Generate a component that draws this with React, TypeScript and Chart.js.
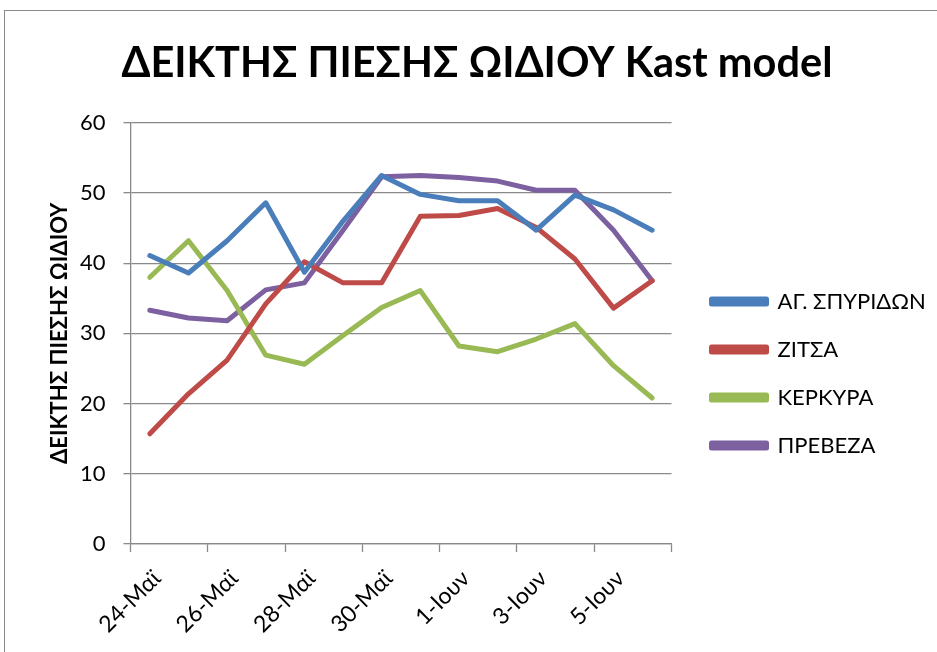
import React, { useEffect, useRef } from 'react';
import { Chart, registerables } from 'chart.js';

Chart.register(...registerables);

const titleText = 'ΔΕΙΚΤΗΣ ΠΙΕΣΗΣ ΩΙΔΙΟΥ Kast model';
const yAxisTitle = 'ΔΕΙΚΤΗΣ ΠΙΕΣΗΣ ΩΙΔΙΟΥ';

const dates = [
  '24-Μαϊ', '25-Μαϊ', '26-Μαϊ', '27-Μαϊ', '28-Μαϊ', '29-Μαϊ', '30-Μαϊ',
  '31-Μαϊ', '1-Ιουν', '2-Ιουν', '3-Ιουν', '4-Ιουν', '5-Ιουν', '6-Ιουν',
];

const seriesNames = ['ΑΓ. ΣΠΥΡΙΔΩΝ', 'ΖΙΤΣΑ', 'ΚΕΡΚΥΡΑ', 'ΠΡΕΒΕΖΑ'];
const seriesColors = ['#4A7EBB', '#BE4B48', '#98B954', '#7D60A0'];

const agSpyridon = [41.1, 38.6, 43.2, 48.6, 38.7, 46.0, 52.5, 49.8, 48.9, 48.9, 44.7, 49.7, 47.6, 44.7];
const zitsa = [15.7, 21.4, 26.2, 34.2, 40.2, 37.2, 37.2, 46.7, 46.8, 47.8, 45.1, 40.6, 33.6, 37.5];
const kerkyra = [38.0, 43.2, 36.1, 26.9, 25.6, 29.7, 33.7, 36.1, 28.2, 27.4, 29.2, 31.4, 25.4, 20.8];
const preveza = [33.3, 32.2, 31.8, 36.2, 37.2, 44.7, 52.3, 52.5, 52.2, 51.7, 50.4, 50.4, 44.7, 37.5];

const yMin = 0;
const yMax = 60;
const yStep = 10;

const allSeries = [agSpyridon, zitsa, kerkyra, preveza];

const FONT = 'Lato, "Open Sans", "Liberation Sans", sans-serif';
const GRID = '#898989';
const LABEL_OFFSET = 0.68;
const LEGEND_DX = 14;
const LEGEND_DY = 42;

const legendShift = {
  id: 'legendShift',
  afterLayout(chart: any) {
    const l = chart.legend;
    if (!l) return;
    l.left += LEGEND_DX;
    l.right += LEGEND_DX;
    l.top += LEGEND_DY;
    l.bottom += LEGEND_DY;
  },
};

export default function App() {
  const ref = useRef<HTMLCanvasElement | null>(null);

  useEffect(() => {
    if (!ref.current) return;
    const chart = new Chart(ref.current, {
      type: 'line',
      data: {
        datasets: allSeries.map((vals, s) => ({
          label: seriesNames[s],
          data: vals.map((v, i) => ({ x: i + 0.5, y: v })),
          borderColor: seriesColors[s],
          backgroundColor: seriesColors[s],
          borderWidth: 5,
          pointRadius: 0,
          pointHoverRadius: 0,
          tension: 0,
          fill: false,
          borderJoinStyle: 'round',
          borderCapStyle: 'round',
        })),
      },
      plugins: [legendShift],
      options: {
        responsive: false,
        animation: false,
        layout: { padding: { left: 37.5, right: 25.5, top: 0, bottom: 0 } },
        plugins: {
          title: {
            display: true,
            text: titleText,
            color: '#000',
            font: { family: FONT, size: 41.5, weight: 'bold', lineHeight: 1.2 },
            padding: { top: 28, bottom: 34 },
          },
          legend: {
            display: true,
            position: 'right',
            align: 'center',
            maxWidth: 240,
            labels: {
              boxWidth: 55,
              boxHeight: 5,
              padding: 26,
              color: '#000',
              font: { family: FONT, size: 22 },
            },
          },
          tooltip: { enabled: false },
        },
        scales: {
          x: {
            type: 'linear',
            min: 0,
            max: dates.length,
            afterFit: (scale: any) => {
              scale.height = 108;
            },
            afterBuildTicks: (scale: any) => {
              const t: any[] = [];
              for (let i = 0; i <= dates.length; i += 2) {
                t.push({ value: i });
                if (i < dates.length) t.push({ value: i + LABEL_OFFSET });
              }
              scale.ticks = t;
            },
            ticks: {
              autoSkip: false,
              maxRotation: 45,
              minRotation: 45,
              padding: 13,
              color: '#000',
              font: { family: FONT, size: 23 },
              callback: (value: any) => {
                const v = Number(value);
                if (Number.isInteger(v)) return '';
                return dates[Math.round(v - LABEL_OFFSET)];
              },
            },
            grid: {
              display: true,
              drawOnChartArea: false,
              drawTicks: true,
              tickLength: 8,
              tickWidth: 1.3,
              tickColor: (ctx: any) =>
                ctx.tick && Number.isInteger(ctx.tick.value) ? GRID : 'rgba(0,0,0,0)',
            },
            border: { display: true, color: GRID, width: 1.3 },
          },
          y: {
            type: 'linear',
            min: yMin,
            max: yMax,
            afterFit: (scale: any) => {
              scale.width = 88;
            },
            ticks: {
              stepSize: yStep,
              padding: 18,
              color: '#000',
              font: { family: FONT, size: 22 },
            },
            grid: {
              color: GRID,
              lineWidth: 1.3,
              tickLength: 7,
              drawTicks: true,
            },
            border: { display: true, color: GRID, width: 1.3 },
            title: {
              display: true,
              text: yAxisTitle,
              color: '#000',
              font: { family: FONT, size: 22, weight: 'bold', lineHeight: 1.2 },
              padding: { top: 4.5, bottom: 0 },
            },
          },
        },
      },
    } as any);
    return () => chart.destroy();
  }, []);

  return (
    <div
      style={{
        position: 'fixed',
        left: 4,
        top: 10,
        right: 0,
        bottom: 0,
        borderTop: '1.5px solid #8a8a8a',
        borderLeft: '1.5px solid #8a8a8a',
        background: '#fff',
        overflow: 'hidden',
      }}
    >
      <canvas ref={ref} width={932} height={641} style={{ display: 'block' }} />
    </div>
  );
}
